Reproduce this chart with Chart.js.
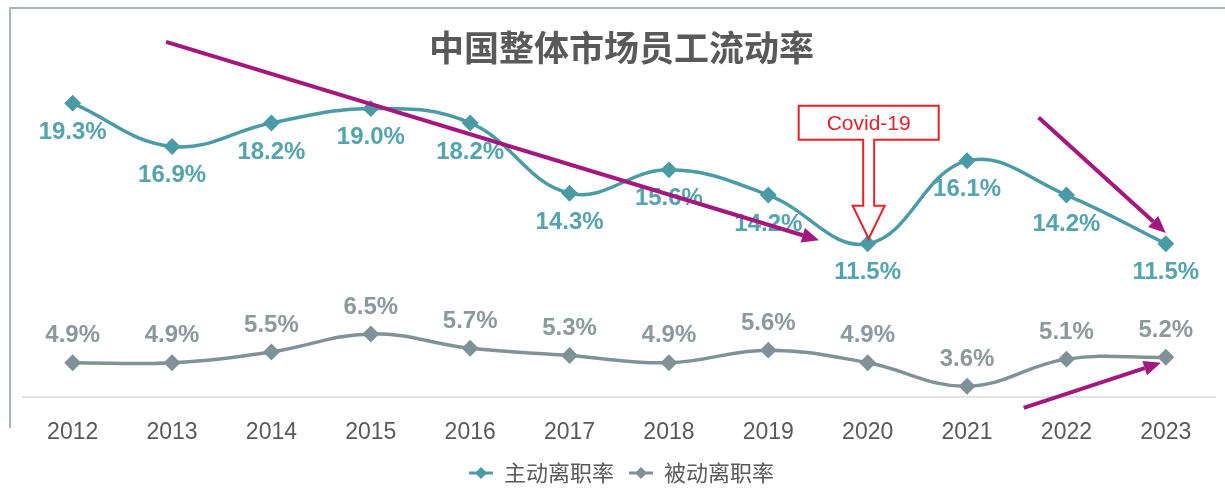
<!DOCTYPE html>
<html lang="zh-CN">
<head>
<meta charset="UTF-8">
<title>中国整体市场员工流动率</title>
<script src="https://cdn.jsdelivr.net/npm/chart.js@4.4.0/dist/chart.umd.min.js"></script>
<style>
  * { margin: 0; padding: 0; box-sizing: border-box; }
  body { background: #fff; width: 1225px; height: 500px; overflow: hidden; }
  #wrap { position: relative; width: 1225px; height: 500px; }
</style>
</head>
<body>
<div id="wrap"><canvas id="chart" width="1225" height="500"></canvas></div>
<script>
  // Dados do gráfico
  const anos = ['2012', '2013', '2014', '2015', '2016', '2017', '2018', '2019', '2020', '2021', '2022', '2023'];
  const ativo = [19.3, 16.9, 18.2, 19.0, 18.2, 14.3, 15.6, 14.2, 11.5, 16.1, 14.2, 11.5];
  const passivo = [4.9, 4.9, 5.5, 6.5, 5.7, 5.3, 4.9, 5.6, 4.9, 3.6, 5.1, 5.2];
  const nomes = ['主动离职率', '被动离职率'];
  const titulo = '中国整体市场员工流动率';
  const covidAno = '2020';
  const covidTexto = 'Covid-19';
  // setas de tendência, em coordenadas (índice do ano, valor %)
  const setas = [
    [0.94, 22.7, 7.51, 11.7],
    [9.72, 18.5, 11.0, 12.1],
    [9.57, 2.4, 10.95, 4.9],
  ];

  const corAtivo = '#4a9ba5';
  const corPassivo = '#7f9297';
  const corSeta = '#a3177f';
  const cinza = '#595959';

  // ícone da legenda: linha + losango
  function iconeLegenda(cor) {
    const c = document.createElement('canvas');
    c.width = 24; c.height = 14;
    const g = c.getContext('2d');
    g.strokeStyle = cor; g.lineWidth = 3;
    g.beginPath(); g.moveTo(0, 7); g.lineTo(24, 7); g.stroke();
    g.fillStyle = cor;
    g.beginPath(); g.moveTo(12, 1); g.lineTo(18, 7); g.lineTo(12, 13); g.lineTo(6, 7); g.closePath(); g.fill();
    return c;
  }
  const icones = [iconeLegenda(corAtivo), iconeLegenda(corPassivo)];

  // moldura, rótulos, setas e caixa Covid
  const extras = {
    id: 'extras',
    beforeDraw(chart) {
      const ctx = chart.ctx;
      ctx.save();
      ctx.fillStyle = '#fff';
      ctx.fillRect(0, 0, chart.width, chart.height);
      ctx.strokeStyle = '#a9b4ba';
      ctx.lineWidth = 2;
      ctx.beginPath();
      ctx.moveTo(10, 428); ctx.lineTo(10, 8); ctx.lineTo(chart.width, 8);
      ctx.stroke();
      ctx.restore();
    },
    afterDatasetsDraw(chart) {
      const ctx = chart.ctx;
      const x = chart.scales.x, y = chart.scales.y;
      ctx.save();
      ctx.font = 'bold 24px "Liberation Sans", Arial, sans-serif';
      ctx.textAlign = 'center';
      ctx.textBaseline = 'middle';
      chart.data.datasets.forEach((ds, i) => {
        const meta = chart.getDatasetMeta(i);
        ctx.fillStyle = i === 0 ? '#55a3ac' : '#8b999d';
        meta.data.forEach((pt, j) => {
          const dy = i === 0 ? 29 : -27;
          ctx.fillText(ds.data[j].toFixed(1) + '%', pt.x, pt.y + dy);
        });
      });

      // caixa Covid-19 com seta de bloco
      const ci = anos.indexOf(covidAno);
      const px = x.getPixelForValue(ci) + 1;
      const py = chart.getDatasetMeta(0).data[ci].y;
      const tipY = py - 5;
      const headTop = tipY - 33;
      const boxBottom = headTop - 66;
      const boxTop = boxBottom - 34;
      ctx.strokeStyle = '#e8202a';
      ctx.fillStyle = '#fff';
      ctx.lineWidth = 2;
      ctx.beginPath();
      ctx.moveTo(px - 70, boxTop);
      ctx.lineTo(px + 70, boxTop);
      ctx.lineTo(px + 70, boxBottom);
      ctx.lineTo(px + 5.5, boxBottom);
      ctx.lineTo(px + 5.5, headTop);
      ctx.lineTo(px + 16, headTop);
      ctx.lineTo(px, tipY);
      ctx.lineTo(px - 16, headTop);
      ctx.lineTo(px - 5.5, headTop);
      ctx.lineTo(px - 5.5, boxBottom);
      ctx.lineTo(px - 70, boxBottom);
      ctx.closePath();
      ctx.fill();
      ctx.stroke();
      ctx.fillStyle = '#e8202a';
      ctx.font = '21px "Liberation Sans", Arial, sans-serif';
      ctx.fillText(covidTexto, px, (boxTop + boxBottom) / 2 + 1);

      // setas magenta
      ctx.strokeStyle = corSeta;
      ctx.fillStyle = corSeta;
      ctx.lineWidth = 4;
      ctx.lineCap = 'butt';
      setas.forEach(([i0, v0, i1, v1]) => {
        const x0 = x.getPixelForValue(i0), y0 = y.getPixelForValue(v0);
        const x1 = x.getPixelForValue(i1), y1 = y.getPixelForValue(v1);
        const ang = Math.atan2(y1 - y0, x1 - x0);
        const len = 17, w = 7.5;
        const bx = x1 - len * Math.cos(ang), by = y1 - len * Math.sin(ang);
        ctx.beginPath();
        ctx.moveTo(x0, y0); ctx.lineTo(bx, by);
        ctx.stroke();
        ctx.beginPath();
        ctx.moveTo(x1, y1);
        ctx.lineTo(bx + w * Math.sin(ang), by - w * Math.cos(ang));
        ctx.lineTo(bx - w * Math.sin(ang), by + w * Math.cos(ang));
        ctx.closePath();
        ctx.fill();
      });
      ctx.restore();
    }
  };

  new Chart(document.getElementById('chart'), {
    type: 'line',
    data: {
      labels: anos,
      datasets: [
        {
          label: nomes[0],
          data: ativo,
          borderColor: corAtivo,
          backgroundColor: corAtivo,
          borderWidth: 3.5,
          tension: 0.4,
          pointStyle: 'rectRot',
          pointRadius: 6,
          pointHoverRadius: 6,
        },
        {
          label: nomes[1],
          data: passivo,
          borderColor: corPassivo,
          backgroundColor: corPassivo,
          borderWidth: 3.5,
          tension: 0.4,
          pointStyle: 'rectRot',
          pointRadius: 6,
          pointHoverRadius: 6,
        }
      ]
    },
    options: {
      responsive: false,
      animation: false,
      events: [],
      layout: { padding: { left: 23, right: 5, top: 0, bottom: 6 } },
      plugins: {
        title: {
          display: true,
          text: titulo,
          color: cinza,
          font: { family: '"Noto Sans CJK SC", sans-serif', size: 35, weight: 'bold', lineHeight: 1.2 },
          padding: { top: 27, bottom: 3.5 }
        },
        legend: {
          position: 'bottom',
          labels: {
            usePointStyle: true,
            pointStyleWidth: 24,
            padding: 15,
            color: cinza,
            font: { family: '"Noto Sans CJK SC", sans-serif', size: 22 },
            generateLabels: (chart) => chart.data.datasets.map((ds, i) => ({
              text: ds.label,
              pointStyle: icones[i],
              fillStyle: ds.borderColor,
              strokeStyle: ds.borderColor,
              fontColor: cinza,
              lineWidth: 0,
              datasetIndex: i,
            }))
          }
        },
        tooltip: { enabled: false }
      },
      scales: {
        x: {
          offset: true,
          grid: { display: false, drawTicks: false },
          border: { display: true, color: '#e2e2e2', width: 2 },
          afterFit: (s) => { s.height = 50; },
          ticks: {
            color: cinza,
            padding: 22,
            maxRotation: 0,
            font: { family: '"Liberation Sans", Arial, sans-serif', size: 23 }
          }
        },
        y: {
          display: false,
          min: 3,
          max: 21
        }
      }
    },
    plugins: [extras]
  });
</script>
</body>
</html>
